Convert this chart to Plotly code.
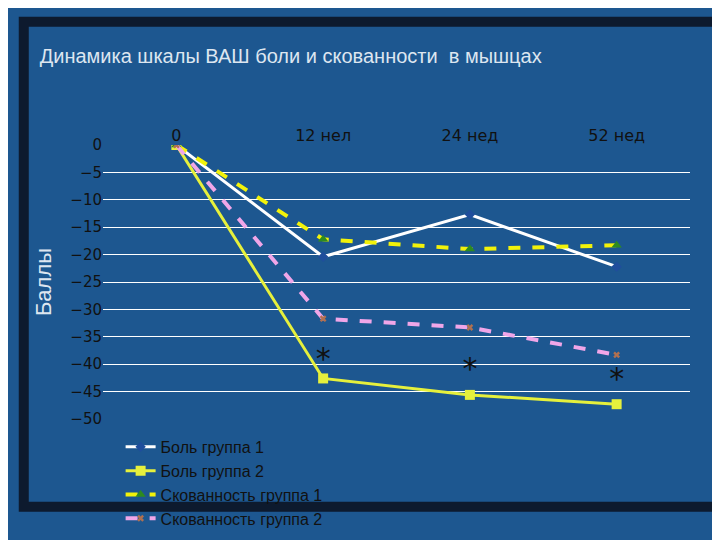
import plotly.graph_objects as go

categories = ["0", "12 нел", "24 нед", "52 нед"]
pain_g1 = [0, -20.4, -12.7, -22.2]
pain_g2 = [0, -42.6, -45.6, -47.3]
stiff_g1 = [0, -17.2, -19.0, -18.3]
stiff_g2 = [0, -31.7, -33.3, -38.3]
star_y = [-39.5, -41.3, -43.2]

fig = go.Figure()
fig.add_trace(go.Scatter(x=categories, y=pain_g1, name="Боль группа 1", mode="lines+markers",
                         line=dict(color="white", width=3),
                         marker=dict(symbol="diamond", size=8, color="#1f4e9c")))
fig.add_trace(go.Scatter(x=categories, y=pain_g2, name="Боль группа 2", mode="lines+markers",
                         line=dict(color="#e6f03c", width=3),
                         marker=dict(symbol="square", size=10, color="#e6f03c")))
fig.add_trace(go.Scatter(x=categories, y=stiff_g1, name="Скованность группа 1", mode="lines+markers",
                         line=dict(color="#f2f20a", width=4, dash="dash"),
                         marker=dict(symbol="triangle-up", size=9, color="#2e8b20")))
fig.add_trace(go.Scatter(x=categories, y=stiff_g2, name="Скованность группа 2", mode="lines+markers",
                         line=dict(color="#f0a6e8", width=4, dash="dash"),
                         marker=dict(symbol="x", size=6, color="#b07050")))
fig.add_trace(go.Scatter(x=categories[1:], y=star_y, mode="text", text=["*", "*", "*"],
                         textfont=dict(size=30, color="#111"), showlegend=False, hoverinfo="skip"))

fig.update_layout(
    width=720, height=540,
    margin=dict(l=95, r=38, t=137, b=97),
    paper_bgcolor="#1d5790", plot_bgcolor="rgba(0,0,0,0)",
    font=dict(family="DejaVu Sans", color="white"),
    title=dict(text="Динамика шкалы ВАШ боли и скованности  в мышцах", x=0.044, y=0.925,
               font=dict(size=20, color="#dde6f0", family="Liberation Sans")),
    xaxis=dict(side="top", tickfont=dict(size=16, color="#111"), showgrid=False,
               range=[-0.5, 3.5], showline=False, ticks=""),
    yaxis=dict(range=[-50, 0], dtick=5, tickfont=dict(size=15, color="#111"),
               gridcolor="white", gridwidth=1, zeroline=False, showline=False,
               title=dict(text="Баллы", font=dict(size=22, color="#dde6f0", family="Liberation Sans"),
                          standoff=12)),
    legend=dict(orientation="h", x=0.03, y=-0.04, yanchor="top", xanchor="left",
                entrywidth=260, entrywidthmode="pixels",
                font=dict(size=16, color="#111", family="Liberation Sans"),
                bgcolor="rgba(0,0,0,0)", tracegroupgap=0),
    shapes=[dict(type="rect", xref="paper", yref="paper", x0=-0.135, x1=1.06, y0=-0.32, y1=1.45,
                 line=dict(color="#0d1a2e", width=10), layer="below")],
)
fig.write_html("out.html")
